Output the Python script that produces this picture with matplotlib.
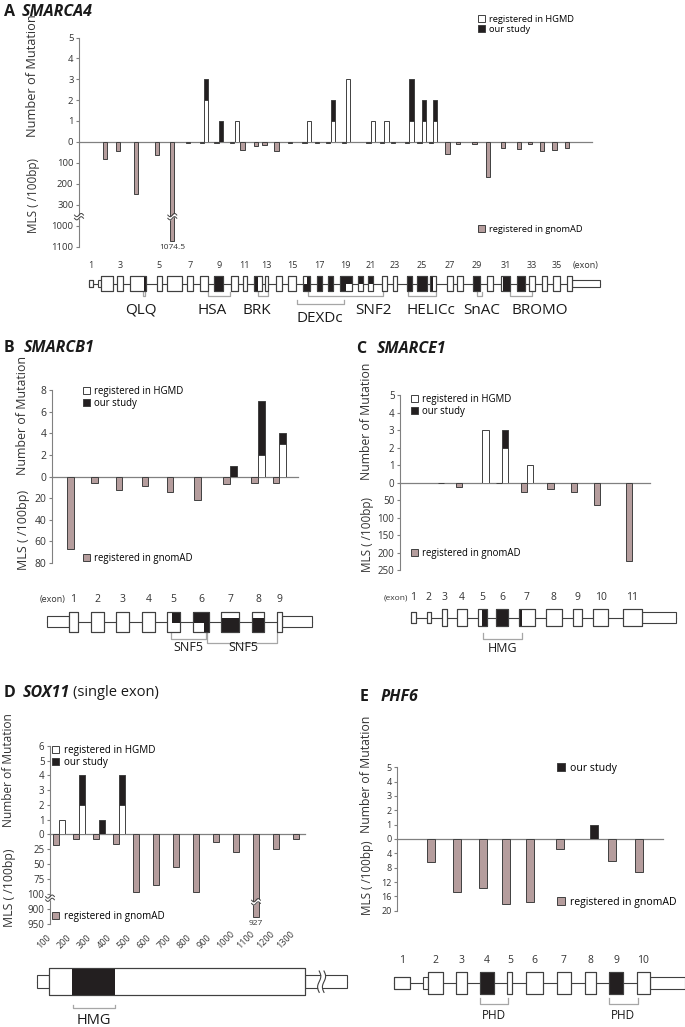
import matplotlib.pyplot as plt
import numpy as np
from matplotlib.patches import Rectangle
from matplotlib.transforms import blended_transform_factory

plt.rcParams['font.family'] = ['Open Sans', 'DejaVu Sans']

W, H = 685, 1027
GNOMAD = '#b59d9d'
EDGE = '#404040'
BLACK = '#231f20'
AXIS = '#808080'
TXT = '#333333'
BRK = '#a6a6a6'

# ---------------- data ----------------
# A  SMARCA4 (exons 1-36)
a_gnomad = [0, 84, 44, 250, 65, 1074.5, 8, 8, 5, 8,
            40, 20, 16, 45, 8, 5, 5, 5, 5, 0,
            5, 5, 5, 8, 5, 5, 60, 10, 10, 167,
            32, 36, 13, 45, 40, 32]
a_hgmd = [0, 0, 0, 0, 0, 0, 0, 2, 0, 1,
          0, 0, 0, 0, 0, 1, 0, 1, 3, 0,
          1, 1, 0, 1, 1, 1, 0, 0, 0, 0,
          0, 0, 0, 0, 0, 0]
a_ours = [0, 0, 0, 0, 0, 0, 0, 1, 1, 0,
          0, 0, 0, 0, 0, 0, 0, 1, 0, 0,
          0, 0, 0, 2, 1, 1, 0, 0, 0, 0,
          0, 0, 0, 0, 0, 0]

# B  SMARCB1 (exons 1-9)
b_gnomad = [67, 5.5, 12, 9, 14.5, 22, 7, 6, 5.5]
b_hgmd = [0, 0, 0, 0, 0, 0, 0, 2, 3]
b_ours = [0, 0, 0, 0, 0, 0, 1, 5, 1]

# C  SMARCE1 (exons 1-11)
c_gnomad = [0, 0, 2, 12, 0, 1, 26, 19, 26, 64, 223]
c_hgmd = [0, 0, 0, 0, 3, 2, 1, 0, 0, 0, 0]
c_ours = [0, 0, 0, 0, 0, 1, 0, 0, 0, 0, 0]

# D  SOX11 (100 bp bins)
d_bins = [100, 200, 300, 400, 500, 600, 700, 800, 900, 1000, 1100, 1200, 1300]
d_gnomad = [17, 8, 8, 16, 96, 85, 54, 96, 12, 29, 927, 24, 8]
d_hgmd = [1, 2, 0, 2, 0, 0, 0, 0, 0, 0, 0, 0, 0]
d_ours = [0, 2, 1, 2, 0, 0, 0, 0, 0, 0, 0, 0, 0]

# E  PHF6 (exons 1-10)
e_gnomad = [0, 6.5, 14.7, 13.6, 18.2, 17.5, 2.8, 0, 6, 9.3]
e_ours = [0, 0, 0, 0, 0, 0, 0, 1, 0, 0]

# ---------------- gene models (schematic units) ----------------
a_cds = [(89.3, 92.7), (101, 113.3), (117.3, 123.3), (130, 146), (156.7, 161.7),
         (167.3, 181.7), (186.7, 193.3), (200, 207.7), (214.3, 223.3), (230.7, 238.3),
         (242.7, 246.7), (254, 261.7), (265, 268.3), (275.7, 281.7), (288.3, 295.7),
         (303.3, 310), (317.3, 321.7), (327.7, 333.3), (340, 351.7), (358.3, 363.3),
         (368.3, 373.3), (381.7, 386.7), (393.3, 396.7), (406.7, 411.7), (416.7, 426.7),
         (430, 436), (446.7, 452.7), (456.7, 463.3), (473.3, 480), (486.7, 493.3),
         (500.7, 510), (516.7, 525), (529.3, 535), (541.7, 546.7), (553.3, 560),
         (566.7, 571.7)]
a_h = [0.45] + [1] * 35
a_utr = [(98.3, 101), (571.7, 600)]
a_fill = [(144, 146, -.5, .5), (214.3, 223.3, -.5, .5), (254, 258, -.5, .5),
          (303.3, 306.5, -.5, 0), (306.5, 310, -.5, .5), (317.3, 321.7, -.5, .5),
          (327.7, 333.3, -.5, .5), (340, 346, -.5, .5), (346, 351.7, -.05, .5),
          (358.3, 363.3, 0, .5), (368.3, 373.3, 0, .5), (406.7, 411.7, -.5, .5),
          (416.7, 426.7, -.5, .5), (430, 433, -.5, .5), (473.3, 480, -.5, .5),
          (503, 510, -.5, .5), (516.7, 525, -.5, .5)]
a_dom = [('QLQ', 142.7, 145, 0, 140.7), ('HSA', 207.7, 230, 0, 212.3),
         ('BRK', 258.3, 268.3, 0, 257.3), ('DEXDc', 296.7, 344.3, 1, 320),
         ('SNF2', 307.7, 383.3, 0, 373.7), ('HELICc', 408.3, 436, 0, 430.7),
         ('SnAC', 477.3, 482.3, 0, 481.7), ('BROMO', 510, 531.7, 0, 539.3)]

b_cds = [(69, 78), (91, 104), (116, 129), (142, 155), (167, 180),
         (193, 209), (221, 239), (252, 264), (277, 282)]
b_h = [1] * 9
b_utr = [(47, 69), (282, 312)]
b_fill = [(171.7, 180, -.05, .5), (193, 209, -.05, .5), (204, 209, -.5, -.05),
          (221, 239, -.5, .2), (252, 264, -.5, .2)]
b_dom = [('SNF5', 171, 206, 0, 188), ('SNF5', 207, 277, 1, 243)]

c_cds = [(411, 416), (426.7, 430.7), (441.7, 446.7), (457.3, 466.7), (477.7, 486.7),
         (495.7, 508.3), (519, 535), (545.7, 561.7), (572.7, 582.3), (592.7, 608.3),
         (622.7, 641.7)]
c_h = [0.65, 0.65, 1, 1, 1, 1, 1, 1, 1, 1, 1]
c_utr = [(641.7, 676)]
c_fill = [(482.3, 486.7, -.5, .5), (495.7, 508.3, -.5, .5), (519, 522, -.5, .5)]
c_dom = [('HMG', 482.7, 522.3, 0, 502.5)]

d_cds = [(0, 1280)]
d_h = [1]
d_utr = [(-62, 0), (1280, 1490)]
d_fill = [(115, 330, -.5, .5)]
d_dom = [('HMG', 120, 330, 0, 225)]

e_cds = [(394.3, 410), (428, 442.7), (456, 466.7), (480, 494), (507.3, 512.3),
         (525.7, 542.7), (556.7, 571), (585, 595.7), (609, 623.3), (636.7, 650)]
e_h = [0.57] + [1] * 9
e_utr = [(423.3, 428), (650, 685)]
e_fill = [(480, 494, -.5, .5), (609, 623.3, -.5, .5)]
e_dom = [('PHD', 480, 508.3, 0, 494), ('PHD', 609, 637.7, 0, 623)]

# ---------------- helpers ----------------
fig = plt.figure(figsize=(W / 100, H / 100), dpi=100)


def px_rect(l, t, r, b):
    return [l / W, 1 - b / H, (r - l) / W, (b - t) / H]


def pair_axes(l, t, mid, b, r, xlim):
    ax_t = fig.add_axes(px_rect(l, t, r, mid))
    ax_b = fig.add_axes(px_rect(l, mid, r, b), sharex=ax_t)
    ax_t.set_xlim(*xlim)
    for ax in (ax_t, ax_b):
        for s in ('top', 'right'):
            ax.spines[s].set_visible(False)
        ax.spines['left'].set_color(AXIS)
        ax.spines['left'].set_linewidth(0.8)
        ax.tick_params(axis='x', bottom=False, labelbottom=False)
        ax.patch.set_alpha(0)
    ax_t.spines['bottom'].set_color(AXIS)
    ax_t.spines['bottom'].set_linewidth(0.9)
    ax_b.spines['bottom'].set_visible(False)
    return ax_t, ax_b


def yticks(ax, ticks, fs):
    ax.set_yticks(ticks)
    ax.tick_params(axis='y', colors=AXIS, labelcolor=TXT, labelsize=fs,
                   length=2.5, width=0.8, pad=1.5)


def broken_scale(ax, pin, pout):
    ax.set_yscale('function', functions=(lambda v: np.interp(v, pin, pout),
                                         lambda u: np.interp(u, pout, pin)))


def ylabels(xc, num_bottom, mls_bottom, fs_n, fs_m):
    fig.text(xc / W, 1 - num_bottom / H, 'Number of Mutation', rotation=90, ha='left',
             va='center', rotation_mode='anchor', fontsize=fs_n, color=TXT)
    fig.text(xc / W, 1 - mls_bottom / H, 'MLS ( /100bp)', rotation=90, ha='left',
             va='center', rotation_mode='anchor', fontsize=fs_m, color=TXT)


def bars(ax_t, ax_b, x, gn, hg, ou, w, off):
    x = np.asarray(x, float)
    gn, hg, ou = (np.asarray(v, float) for v in (gn, hg, ou))
    m = gn > 0
    ax_b.bar(x[m] - off, gn[m], w, color=GNOMAD, ec=EDGE, lw=0.7, zorder=3)
    m = hg > 0
    ax_t.bar(x[m] + off, hg[m], w, color='white', ec=EDGE, lw=0.7, zorder=3)
    m = ou > 0
    ax_t.bar(x[m] + off, ou[m], w, bottom=hg[m], color=BLACK, ec=EDGE, lw=0.7, zorder=3)


def legend(ax, handles, labels, x, y, fs):
    ax.legend(handles, labels, loc='upper left', bbox_to_anchor=(x / W, 1 - y / H),
              bbox_transform=fig.transFigure, frameon=False, fontsize=fs,
              handlelength=0.75, handleheight=0.75, handletextpad=0.45,
              labelspacing=0.12, borderpad=0, borderaxespad=0)


def swatch(fc):
    return Rectangle((0, 0), 1, 1, fc=fc, ec=EDGE, lw=0.7)


def break_mark(ax, x, half, yfrac, ax_h_px, clip=True):
    tr = blended_transform_factory(ax.transData, ax.transAxes)
    t = np.linspace(-1, 1, 40)
    xs = x + half * t
    amp = 1.6 / ax_h_px
    gap = 3.2 / ax_h_px
    wave = yfrac + amp * np.sin(np.pi * t)
    ax.fill_between(xs, wave - gap / 2, wave + gap / 2, color='white', transform=tr,
                    zorder=5, clip_on=clip, lw=0)
    for sgn in (-1, 1):
        ax.plot(xs, wave + sgn * gap / 2, color=EDGE, lw=0.7, transform=tr,
                zorder=6, clip_on=clip)


def gene_axes(l, t, r, b, xlim, yc, bh):
    ax = fig.add_axes(px_rect(l, t, r, b))
    ax.set_xlim(*xlim)
    ax.set_ylim(-(b - yc) / bh, (yc - t) / bh)
    ax.axis('off')
    return ax


def gene(ax, cds, heights, utr, utr_h, fills):
    lo = min(s for s, e in cds + utr)
    hi = max(e for s, e in cds + utr)
    ax.plot([lo, hi], [0, 0], color=EDGE, lw=0.8, zorder=1)
    for s, e in utr:
        ax.add_patch(Rectangle((s, -utr_h / 2), e - s, utr_h, fc='white', ec=EDGE, lw=0.8, zorder=2))
    for (s, e), h in zip(cds, heights):
        ax.add_patch(Rectangle((s, -h / 2), e - s, h, fc='white', ec=EDGE, lw=0.8, zorder=2))
    for s, e, y0, y1 in fills:
        ax.add_patch(Rectangle((s, y0), e - s, y1 - y0, fc=BLACK, ec='none', zorder=3))
    for (s, e), h in zip(cds, heights):
        ax.add_patch(Rectangle((s, -h / 2), e - s, h, fc='none', ec=EDGE, lw=0.8, zorder=4))


def domains(ax, doms, levels, label_y, fs):
    for name, s, e, lev, lx in doms:
        y0, y1 = levels[lev]
        ax.plot([s, s, e, e], [y0, y1, y1, y0], color=BRK, lw=0.9, zorder=1)
        ax.text(lx, label_y[lev], name, ha='center', va='center', fontsize=fs, color='#1a1a1a')


def title(x, y, letter, name, dx, extra=None, dx2=0):
    fig.text(x / W, 1 - y / H, letter, fontsize=11.5, fontweight='bold', va='center', color='#1a1a1a')
    fig.text((x + dx) / W, 1 - y / H, name, fontsize=11.5, fontweight='bold', style='italic',
             va='center', color='#1a1a1a')
    if extra:
        fig.text((x + dx2) / W, 1 - y / H, extra, fontsize=10.5, va='center', color='#1a1a1a')


def centers(cds):
    return [(s + e) / 2 for s, e in cds]


# ---------------- A ----------------
title(4, 12, 'A', 'SMARCA4', 18)
axA, axA2 = pair_axes(79, 37.7, 141.7, 246.7, 592, (79, 592))
axA.set_ylim(0, 5)
yticks(axA, range(0, 6), 6.8)
broken_scale(axA2, [0, 300, 1000, 1100], [0, 3, 4, 5])
axA2.set_ylim(1100, 0)
yticks(axA2, [100, 200, 300, 1000, 1100], 6.8)
ylabels(33, 137, 233, 9.2, 8.5)
xa = centers(a_cds)
bars(axA, axA2, xa, a_gnomad, a_hgmd, a_ours, 4.3, 2.2)
break_mark(axA2, xa[5] - 2.2, 4.5, 0.286, 105)
break_mark(axA2, 79, 4.5, 0.286, 105, clip=False)
axA2.annotate('1074.5', (xa[5] - 2.2, 1074.5), xytext=(0, -2), textcoords='offset points',
              ha='center', va='top', fontsize=6, color=TXT, annotation_clip=False)
legend(axA, [swatch('white'), swatch(BLACK)], ['registered in HGMD', 'our study'], 478, 15, 6.7)
legend(axA2, [swatch(GNOMAD)], ['registered in gnomAD'], 478, 225, 6.7)

gA = gene_axes(70, 255, 615, 325, (70, 615), 283.5, 15)
gene(gA, a_cds, a_h, a_utr, 0.45, a_fill)
for i in range(0, 36, 2):
    gA.text(xa[i], 1.23, str(i + 1), ha='center', va='center', fontsize=6.5, color=TXT)
gA.text(586, 1.23, '(exon)', ha='center', va='center', fontsize=6.5, color=TXT)
domains(gA, a_dom, {0: (-0.55, -0.85), 1: (-1.1, -1.37)}, {0: -1.77, 1: -2.3}, 11)

# ---------------- B ----------------
title(4, 348, 'B', 'SMARCB1', 20)
axB, axB2 = pair_axes(52.3, 390, 476.7, 562.7, 297.7, (52.3, 297.7))
axB.set_ylim(0, 8)
yticks(axB, [0, 2, 4, 6, 8], 7.5)
axB2.set_ylim(80, 0)
yticks(axB2, [20, 40, 60, 80], 7.5)
ylabels(23, 475, 570, 8.9, 9)
xb = centers(b_cds)
bars(axB, axB2, xb, b_gnomad, b_hgmd, b_ours, 6.6, 3.3)
legend(axB, [swatch('white'), swatch(BLACK)], ['registered in HGMD', 'our study'], 83, 386, 6.9)
legend(axB2, [swatch(GNOMAD)], ['registered in gnomAD'], 83, 553, 6.9)

gB = gene_axes(30, 590, 320, 660, (30, 320), 621.7, 20)
gene(gB, b_cds, b_h, b_utr, 0.55, b_fill)
for i, x in enumerate(xb):
    gB.text(x, 1.12, str(i + 1), ha='center', va='center', fontsize=7.5, color=TXT)
gB.text(65, 1.12, '(exon)', ha='right', va='center', fontsize=6.5, color=TXT)
domains(gB, b_dom, {0: (-0.57, -0.87), 1: (-0.57, -1.05)}, {0: -1.3, 1: -1.3}, 9)

# ---------------- C ----------------
title(356, 349, 'C', 'SMARCE1', 21)
axC, axC2 = pair_axes(400, 395, 482.7, 570, 650, (400, 650))
axC.set_ylim(0, 5)
yticks(axC, range(0, 6), 7)
axC2.set_ylim(250, 0)
yticks(axC2, [50, 100, 150, 200, 250], 7)
ylabels(367, 480, 572, 8.8, 8.5)
xc = centers(c_cds)
bars(axC, axC2, xc, c_gnomad, c_hgmd, c_ours, 6.4, 3.2)
legend(axC, [swatch('white'), swatch(BLACK)], ['registered in HGMD', 'our study'], 411, 394, 6.9)
legend(axC2, [swatch(GNOMAD)], ['registered in gnomAD'], 411, 548, 6.9)

gC = gene_axes(380, 585, 685, 660, (380, 685), 617.7, 17)
gene(gC, c_cds, c_h, c_utr, 0.65, c_fill)
for i, x in enumerate(xc):
    gC.text(x, 1.18, str(i + 1), ha='center', va='center', fontsize=7.5, color=TXT)
gC.text(408.5, 1.18, '(exon)', ha='right', va='center', fontsize=6, color=TXT)
domains(gC, c_dom, {0: (-0.92, -1.25)}, {0: -1.8}, 9)

# ---------------- D ----------------
title(4, 693, 'D', 'SOX11', 19, '(single exon)', 69)
bp_per_px = 5.0
d_lim = (5, 5 + (305 - 50) * bp_per_px)
axD, axD2 = pair_axes(50, 746, 834.3, 924.3, 305, d_lim)
axD.set_ylim(0, 6)
yticks(axD, range(0, 7), 7)
broken_scale(axD2, [0, 100, 900, 950], [0, 100, 125, 150])
axD2.set_ylim(950, 0)
yticks(axD2, [25, 50, 75, 100, 900, 950], 7)
ylabels(9, 827, 927, 8.6, 8.8)
xd = [v - 50 for v in d_bins]
bars(axD, axD2, xd, d_gnomad, d_hgmd, d_ours, 28, 15)
break_mark(axD2, xd[10] - 15, 22, 0.25, 90)
break_mark(axD2, d_lim[0], 22, 0.29, 90, clip=False)
axD2.annotate('927', (xd[10] - 15, 927), xytext=(0, -2), textcoords='offset points',
              ha='center', va='top', fontsize=6, color=TXT, annotation_clip=False)
legend(axD, [swatch('white'), swatch(BLACK)], ['registered in HGMD', 'our study'], 52, 745, 7.1)
legend(axD2, [swatch(GNOMAD)], ['registered in gnomAD'], 52, 911, 7.1)

gD = gene_axes(25, 925, 360, 1027, (5 + (25 - 50) * bp_per_px, 5 + (360 - 50) * bp_per_px), 981.7, 26.7)
gene(gD, d_cds, d_h, d_utr, 0.5, d_fill)
for v in d_bins:
    gD.text(v - 135, 1.19, str(v), rotation=45, ha='left', va='bottom', rotation_mode='anchor',
            fontsize=6.5, color=TXT)
# break in the 3' part of the drawing
t = np.linspace(-0.4, 0.4, 30)
wig = 8 * np.sin(np.pi * t / 0.4)
gD.fill_betweenx(t, 1351 + wig, 1375 + wig, color='white', zorder=5, lw=0)
for dx in (-12, 12):
    gD.plot(1363 + dx + wig, t, color=EDGE, lw=0.8, zorder=6)
domains(gD, d_dom, {0: (-0.87, -0.99)}, {0: -1.45}, 10.5)

# ---------------- E ----------------
title(360, 697, 'E', 'PHF6', 21)
axE, axE2 = pair_axes(397.3, 767.3, 839, 910.7, 662.7, (397.3, 662.7))
axE.set_ylim(0, 5)
yticks(axE, range(0, 6), 6.5)
axE2.set_ylim(20, 0)
yticks(axE2, [4, 8, 12, 16, 20], 6.5)
ylabels(367, 833, 915, 8.8, 8.4)
xe = centers(e_cds)
bars(axE, axE2, xe, e_gnomad, [0] * 10, e_ours, 8, 4)
legend(axE, [swatch(BLACK)], ['our study'], 557, 763, 7.6)
legend(axE2, [swatch(GNOMAD)], ['registered in gnomAD'], 557, 897, 7.6)

gE = gene_axes(380, 950, 690, 1027, (380, 690), 983, 22.7)
gene(gE, e_cds, e_h, e_utr, 0.57, e_fill)
for i, x in enumerate(xe):
    gE.text(x, 1.01, str(i + 1), ha='center', va='center', fontsize=7.5, color=TXT)
domains(gE, e_dom, {0: (-0.67, -0.94)}, {0: -1.41}, 8.5)

fig.savefig('out.png', dpi=100)
